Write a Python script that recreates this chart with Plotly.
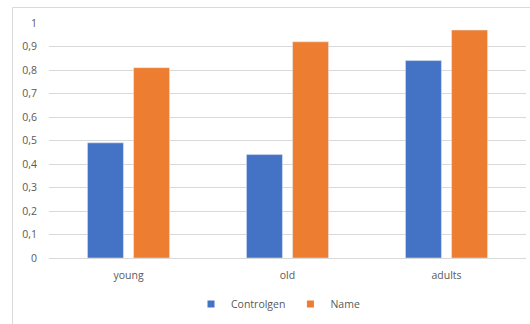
import plotly.graph_objects as go

categories = ["young", "old", "adults"]
controlgen = [0.49, 0.44, 0.84]
name_vals = [0.81, 0.92, 0.97]
tick_vals = [0, 0.1, 0.2, 0.3, 0.4, 0.5, 0.6, 0.7, 0.8, 0.9, 1]
tick_text = ["0", "0,1", "0,2", "0,3", "0,4", "0,5", "0,6", "0,7", "0,8", "0,9", "1"]
series_names = ["Controlgen", "Name"]
colors = ["#4472C4", "#ED7D31"]

W, H = 530, 324
L, R, T, B = 49, 4, 23, 66
pw, ph = W - L - R, H - T - B

def px_x(p):
    return (p - L) / pw

def px_y(p):
    return (H - B - p) / ph

fig = go.Figure()
for vals, nm, col in zip([controlgen, name_vals], series_names, colors):
    fig.add_trace(go.Bar(x=categories, y=vals, name=nm, marker_color=col, showlegend=False))
for nm, col in zip(series_names, colors):
    fig.add_trace(go.Scatter(x=[None], y=[None], mode="markers", name=nm,
                             marker=dict(symbol="square", size=7, color=col)))

font = dict(family="Open Sans, Liberation Sans, sans-serif", size=10.5, color="#595959")

fig.update_layout(
    width=W, height=H,
    margin=dict(l=L, r=R, t=T, b=B),
    paper_bgcolor="white", plot_bgcolor="white",
    barmode="group", bargap=0.42, bargroupgap=0.22,
    font=font,
    showlegend=True,
    legend=dict(orientation="h", x=px_x(278), xanchor="center", y=px_y(304), yanchor="middle",
                font=font, itemwidth=30, traceorder="normal", tracegroupgap=0),
    xaxis=dict(showgrid=False, showline=False, ticks="", tickfont=font, ticklabelstandoff=9),
    yaxis=dict(range=[0, 1], tickvals=tick_vals, ticktext=tick_text, showgrid=True,
               gridcolor="#d9d9d9", gridwidth=1, zeroline=True, zerolinecolor="#d9d9d9",
               zerolinewidth=1, ticks="", ticklabelstandoff=11, tickfont=font, showline=False),
    shapes=[
        dict(type="line", xref="paper", yref="paper", x0=px_x(12.5), x1=px_x(12.5),
             y0=px_y(7.5), y1=px_y(330), line=dict(color="#d9d9d9", width=1)),
        dict(type="line", xref="paper", yref="paper", x0=px_x(12.5), x1=px_x(535),
             y0=px_y(7.5), y1=px_y(7.5), line=dict(color="#d9d9d9", width=1)),
    ],
)

fig.write_html("out.html")
